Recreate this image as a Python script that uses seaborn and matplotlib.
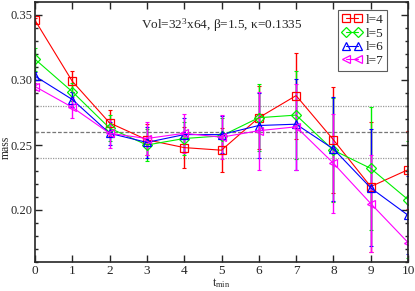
import numpy as np
import pandas as pd
import matplotlib
matplotlib.use("Agg")
import matplotlib.pyplot as plt
import seaborn as sns
from matplotlib.ticker import MultipleLocator, FormatStrFormatter

t_min = [0, 1, 2, 3, 4, 5, 6, 7, 8, 9, 10]

mass_l4 = [0.346, 0.299, 0.267, 0.254, 0.248, 0.246, 0.271, 0.288, 0.254, 0.218, 0.231]
mass_l5 = [0.316, 0.291, 0.263, 0.250, 0.255, 0.257, 0.271, 0.273, 0.246, 0.232, 0.208]
mass_l6 = [0.303, 0.285, 0.259, 0.252, 0.258, 0.258, 0.265, 0.266, 0.247, 0.217, 0.196]
mass_l7 = [0.295, 0.279, 0.259, 0.255, 0.259, 0.256, 0.261, 0.264, 0.236, 0.205, 0.175]

err_l4 = [0.002, 0.008, 0.010, 0.012, 0.016, 0.017, 0.024, 0.033, 0.041, 0.050, 0.030]
err_l5 = [0.009, 0.007, 0.010, 0.012, 0.013, 0.014, 0.026, 0.034, 0.040, 0.047, 0.045]
err_l6 = [0.003, 0.006, 0.009, 0.012, 0.013, 0.014, 0.025, 0.035, 0.040, 0.045, 0.030]
err_l7 = [0.003, 0.008, 0.011, 0.013, 0.015, 0.017, 0.030, 0.033, 0.038, 0.037, 0.030]

labels = ["l=4", "l=5", "l=6", "l=7"]
colors = ["#ff0000", "#00f000", "#0000ff", "#ff00ff"]
markers = ["s", "D", "^", "<"]
msizes = [6, 5, 6, 6]

sns.set_style("ticks")
plt.rcParams["font.family"] = ["Liberation Serif", "DejaVu Serif"]
plt.rcParams["mathtext.fontset"] = "custom"
plt.rcParams["mathtext.rm"] = "Liberation Serif"
plt.rcParams["mathtext.it"] = "Liberation Serif:italic"

fig = plt.figure(figsize=(4.15, 2.91), dpi=100)
ax = fig.add_axes([35 / 415, 29 / 291, 373 / 415, 260 / 291])

ax.axhline(0.28, color="#999999", ls=(0, (1, 1)), lw=0.9, zorder=1)
ax.axhline(0.26, color="#777777", ls=(0, (3, 1.5)), lw=0.9, zorder=1)
ax.axhline(0.24, color="#999999", ls=(0, (1, 1)), lw=0.9, zorder=1)

all_mass = [mass_l4, mass_l5, mass_l6, mass_l7]
all_err = [err_l4, err_l5, err_l6, err_l7]
for m, e, lab, c, mk, ms in zip(all_mass, all_err, labels, colors, markers, msizes):
    df = pd.DataFrame({"t": t_min, "mass": m, "err": e})
    ax.errorbar(df["t"], df["mass"], yerr=df["err"], fmt="none", ecolor=c,
                elinewidth=1.0, capsize=1.5, capthick=0.8, zorder=2)
    sns.lineplot(data=df, x="t", y="mass", ax=ax, color=c, lw=0.8,
                 marker=mk, markersize=ms, markerfacecolor="none",
                 markeredgecolor=c, markeredgewidth=0.9, label=lab, zorder=3)

ax.set_xlim(0, 10)
ax.set_ylim(0.16, 0.36)
ax.xaxis.set_major_locator(MultipleLocator(1))
ax.yaxis.set_major_locator(MultipleLocator(0.05))
ax.yaxis.set_minor_locator(MultipleLocator(0.01))
ax.yaxis.set_major_formatter(FormatStrFormatter("%.2f"))
ax.tick_params(which="both", direction="in", top=True, right=True, width=1, pad=2)
ax.tick_params(axis="x", labelsize=9.5)
ax.tick_params(axis="y", labelsize=9, pad=1.5)
ax.tick_params(which="major", length=5)
ax.tick_params(which="minor", length=2.5)
for s in ax.spines.values():
    s.set_linewidth(1.2)
    s.set_zorder(5)

ax.set_xlabel("t$_{\\mathrm{min}}$", fontsize=8.5)
ax.set_ylabel("mass", fontsize=8.5)
ax.xaxis.set_label_coords(0.5, -0.056)
ax.yaxis.set_label_coords(-0.063, 0.44)

ax.text(0.50, 0.91, "Vol=32$^3$x64, β=1.5, κ=0.1335", transform=ax.transAxes,
        ha="center", va="center", fontsize=9.5)

leg = ax.legend(loc="upper right", bbox_to_anchor=(0.955, 0.985), numpoints=2,
                fontsize=9.5, frameon=True, fancybox=False, handlelength=1.5,
                handletextpad=0.3, borderpad=0.3, labelspacing=0.1, borderaxespad=0.3)
leg.get_frame().set_edgecolor("#333333")
leg.get_frame().set_linewidth(0.8)

fig.savefig("out.png", dpi=100)
